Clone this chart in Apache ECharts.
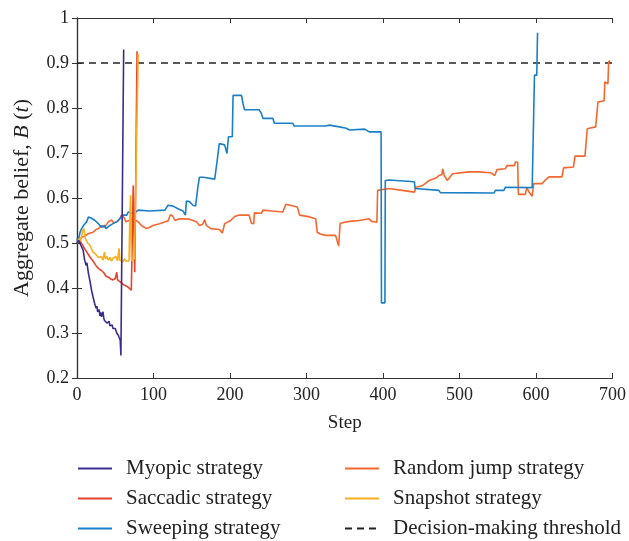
<!DOCTYPE html>
<html>
<head>
    <meta charset="utf-8">
    <script src="https://cdn.jsdelivr.net/npm/echarts@6/dist/echarts.min.js"></script>
    <style type="text/css">
        html, body { margin: 0; padding: 0; background: #fff; }
        #chart { width: 629px; height: 541px; }
    </style>
</head>
<body>
    <div id="chart"></div>
</body>
</html>

<script type="text/javascript">
    // [step, aggregate belief]
    let myopic = [[0, 0.5], [2, 0.506], [5, 0.495], [8, 0.484], [10, 0.462], [12, 0.45], [13, 0.456], [15, 0.432],
        [17, 0.415], [19, 0.395], [21, 0.38], [23, 0.366], [25, 0.355], [26, 0.36], [27, 0.347], [28, 0.343],
        [29, 0.352], [30, 0.338], [31, 0.346], [32, 0.336], [33, 0.34], [34, 0.347], [35, 0.333], [36, 0.328],
        [38, 0.33], [39, 0.322], [41, 0.321], [42, 0.326], [43, 0.316], [45, 0.313], [46, 0.318], [47, 0.31],
        [49, 0.306], [50, 0.31], [52, 0.3], [54, 0.295], [55, 0.29], [56.5, 0.284], [57.4, 0.25], [61, 0.93]]

    let saccadic = [[0, 0.5], [3, 0.506], [6, 0.499], [9, 0.49], [12, 0.482], [15, 0.474], [18, 0.466], [21, 0.46],
        [24, 0.452], [26, 0.447], [29, 0.442], [32, 0.439], [35, 0.434], [38, 0.426], [41, 0.424], [44, 0.42],
        [47, 0.418], [50, 0.421], [52, 0.435], [53, 0.418], [56, 0.414], [59, 0.41], [62, 0.406], [65, 0.404],
        [68, 0.4], [71, 0.395], [72, 0.396], [73.5, 0.628], [75.5, 0.435], [78.5, 0.926]]

    let sweeping = [[0, 0.51], [1, 0.5], [4, 0.524], [6, 0.532], [9, 0.54], [12.6, 0.547], [15, 0.558], [17, 0.562],
        [19, 0.555], [23.5, 0.55], [28, 0.543], [32, 0.535], [36, 0.539], [38, 0.532], [43, 0.539], [47, 0.543],
        [52, 0.547], [56, 0.554], [60, 0.562], [65, 0.562], [67, 0.569], [74, 0.565], [80, 0.573], [95, 0.571],
        [115, 0.573], [119, 0.584], [121, 0.586], [125.6, 0.582], [132, 0.576], [138.6, 0.571], [141.7, 0.562],
        [143, 0.593], [147, 0.592], [151.6, 0.584], [155, 0.582], [158, 0.624], [160, 0.646], [165, 0.646],
        [180, 0.642], [182, 0.639], [183, 0.68], [186, 0.721], [193, 0.718], [196, 0.699], [198, 0.736],
        [203, 0.736], [204, 0.828], [215, 0.828], [217, 0.81], [219, 0.796], [238, 0.796], [241, 0.788],
        [243, 0.777], [256, 0.777], [258, 0.766], [282, 0.766], [284, 0.76], [325, 0.76], [330, 0.762],
        [343, 0.758], [352, 0.755], [356, 0.751], [358, 0.753], [376, 0.753], [382, 0.747], [397.5, 0.747],
        [398, 0.367], [402.5, 0.367], [403, 0.639], [408, 0.64], [441, 0.636], [442, 0.621], [473, 0.617],
        [475, 0.612], [545, 0.611], [547, 0.617], [558, 0.617], [560, 0.624], [595, 0.623], [597, 0.622],
        [598, 0.873], [601, 0.873], [602, 0.967]]

    let randomJump = [[0, 0.5], [3, 0.505], [6, 0.513], [10, 0.515], [15, 0.521], [21, 0.524], [25, 0.53], [28, 0.532],
        [32, 0.539], [36, 0.535], [41, 0.547], [45, 0.551], [48, 0.545], [52, 0.547], [56, 0.554], [58, 0.562],
        [61, 0.558], [64, 0.547], [68, 0.55], [73, 0.554], [80, 0.547], [84, 0.539], [86, 0.536], [91, 0.532],
        [95, 0.535], [99, 0.539], [104, 0.541], [108, 0.543], [115, 0.547], [119, 0.549], [122, 0.563],
        [125, 0.56], [128, 0.55], [134, 0.554], [147, 0.553], [156, 0.547], [160, 0.539], [164, 0.541],
        [167, 0.552], [169, 0.539], [175, 0.532], [186, 0.53], [190, 0.522], [193, 0.543], [201, 0.55],
        [206, 0.559], [212, 0.562], [225, 0.562], [227, 0.558], [228, 0.544], [231, 0.543], [232, 0.567],
        [241, 0.566], [243, 0.573], [255, 0.571], [269, 0.569], [273, 0.586], [288, 0.58], [291, 0.562],
        [304, 0.558], [312, 0.554], [314, 0.524], [318, 0.52], [325, 0.517], [338, 0.517], [342, 0.493],
        [344, 0.544], [356, 0.548], [369, 0.55], [382, 0.554], [385, 0.548], [392, 0.546], [393, 0.617],
        [408, 0.621], [425, 0.617], [441, 0.613], [443, 0.624], [452, 0.628], [458, 0.636], [462, 0.64],
        [470, 0.645], [473, 0.65], [477, 0.652], [478, 0.665], [480, 0.65], [484, 0.639], [486, 0.636],
        [491, 0.654], [512, 0.658], [525, 0.658], [541, 0.656], [546, 0.65], [549, 0.663], [560, 0.665],
        [562, 0.672], [572, 0.672], [573, 0.68], [576, 0.68], [577, 0.608], [586, 0.608], [588, 0.623],
        [591, 0.613], [595, 0.604], [597, 0.632], [608, 0.632], [611, 0.638], [617, 0.647], [634, 0.647],
        [636, 0.667], [649, 0.669], [651, 0.693], [664, 0.693], [667, 0.754], [678, 0.758], [681, 0.813],
        [689, 0.816], [690, 0.858], [694, 0.854], [695, 0.903], [697, 0.905]]

    let snapshot = [[0, 0.5], [3, 0.51], [5, 0.505], [7, 0.525], [9, 0.532], [11, 0.51], [14, 0.5], [17, 0.495],
        [19, 0.486], [21, 0.48], [24, 0.476], [26, 0.473], [28, 0.468], [30, 0.465], [32, 0.47], [34, 0.462],
        [36, 0.48], [37, 0.465], [39, 0.47], [41, 0.462], [43, 0.468], [45, 0.46], [47, 0.466], [49, 0.462],
        [51, 0.47], [53, 0.46], [55, 0.488], [56, 0.462], [58, 0.466], [60, 0.458], [62, 0.465], [64, 0.46],
        [66, 0.458], [68, 0.46], [69, 0.55], [70, 0.606], [71, 0.47], [72, 0.46], [75, 0.465], [80, 0.92]]

    let threshold = [[0, 0.9], [700, 0.9]]

    let seriesNames = ['Myopic strategy', 'Saccadic strategy', 'Sweeping strategy',
        'Random jump strategy', 'Snapshot strategy', 'Decision-making threshold']
    let seriesColors = ['#3b2c92', '#e8432b', '#1a80c6', '#f4672f', '#f7af1d', '#222222']
    let seriesData = [myopic, saccadic, sweeping, randomJump, snapshot, threshold]

    let font = '"Liberation Serif", "DejaVu Serif", serif'

    let myChart = echarts.init(document.getElementById('chart'))

    // draw order: threshold under, then the long lines, short ones on top
    let drawOrder = [5, 3, 2, 1, 4, 0]
    let series = drawOrder.map(i => ({
        name: seriesNames[i],
        type: 'line',
        data: seriesData[i],
        symbol: 'none',
        color: seriesColors[i],
        lineStyle: {
            width: i == 5 ? 1.3 : 1.6,
            type: i == 5 ? [7, 5] : 'solid'
        },
        z: 2 + drawOrder.indexOf(i)
    }))

    let legendBase = {
        orient: 'vertical',
        height: 100,
        itemWidth: 34,
        itemHeight: 12,
        itemGap: 9,
        itemStyle: { opacity: 0 },
        textStyle: { fontFamily: font, fontSize: 21, color: '#222', padding: [0, 0, 0, 9], lineHeight: 20 }
    }

    let option = {
        animation: false,
        grid: { left: 77, right: 15, top: 18, bottom: 163 },
        legend: [
            Object.assign({}, legendBase, { left: 72, top: 453, data: seriesNames.slice(0, 3) }),
            Object.assign({}, legendBase, { left: 339, top: 453, data: seriesNames.slice(3) })
        ],
        xAxis: [
            {
                type: 'value',
                min: 0,
                max: 700,
                interval: 100,
                name: 'Step',
                nameLocation: 'middle',
                nameGap: 36,
                nameTextStyle: { fontFamily: font, fontSize: 19, color: '#222' },
                axisLine: { lineStyle: { color: '#333', width: 1.2 } },
                axisTick: { inside: true, length: 5, lineStyle: { color: '#333' } },
                axisLabel: { fontFamily: font, fontSize: 18, color: '#222', margin: 8 },
                splitLine: { show: false }
            },
            {
                type: 'value',
                position: 'top',
                min: 0,
                max: 700,
                interval: 100,
                axisLine: { show: true, lineStyle: { color: '#333', width: 1.2 } },
                axisTick: { show: true, inside: true, length: 5, lineStyle: { color: '#333' } },
                axisLabel: { show: false },
                splitLine: { show: false }
            }
        ],
        yAxis: [
            {
                type: 'value',
                min: 0.2,
                max: 1,
                interval: 0.1,
                name: 'Aggregate belief, {i|B} ({i|t})',
                nameLocation: 'middle',
                nameGap: 44,
                nameTextStyle: {
                    fontFamily: font, fontSize: 22, color: '#222',
                    rich: { i: { fontFamily: font, fontSize: 22, fontStyle: 'italic', color: '#222' } }
                },
                axisLine: { show: true, lineStyle: { color: '#333', width: 1.2 } },
                axisTick: { show: true, inside: true, length: 5, lineStyle: { color: '#333' } },
                axisLabel: {
                    fontFamily: font, fontSize: 18, color: '#222', margin: 8,
                    formatter: v => String(Math.round(v * 10) / 10)
                },
                splitLine: { show: false }
            },
            {
                type: 'value',
                position: 'right',
                min: 0.2,
                max: 1,
                interval: 0.1,
                axisLine: { show: true, lineStyle: { color: '#333', width: 1.2 } },
                axisTick: { show: true, inside: true, length: 5, lineStyle: { color: '#333' } },
                axisLabel: { show: false },
                splitLine: { show: false }
            }
        ],
        series: series
    }

    myChart.setOption(option)
</script>
